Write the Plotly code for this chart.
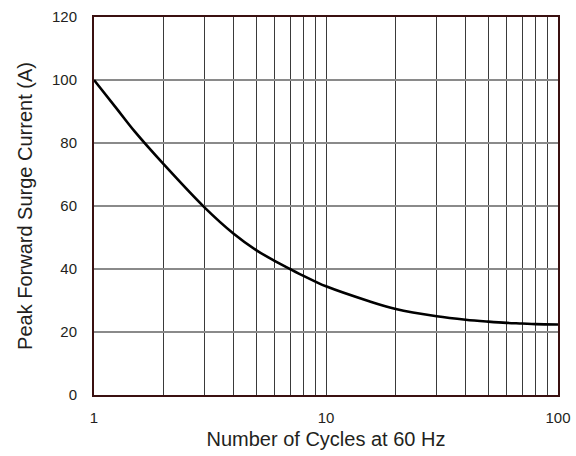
import plotly.graph_objects as go

cycles = [1, 1.25, 1.5, 2, 3, 4, 5, 6, 7, 8, 9, 10, 15, 20, 30, 40, 50, 60, 70, 80, 100]
current = [100, 91, 83.6, 73.2, 59.5, 51.2, 46, 42.6, 40, 37.8, 36.0, 34.5,
           30.0, 27.3, 25.0, 23.9, 23.3, 22.9, 22.7, 22.5, 22.4]

x_grid = [1, 2, 3, 4, 5, 6, 7, 8, 9, 10, 20, 30, 40, 50, 60, 70, 80, 90, 100]
x_labels = ["1" if v == 1 else "10" if v == 10 else "100" if v == 100 else "" for v in x_grid]
y_ticks = [0, 20, 40, 60, 80, 100, 120]

fig = go.Figure()
fig.add_trace(go.Scatter(x=cycles, y=current, mode="lines",
                         line=dict(color="black", width=2.6, shape="spline", smoothing=1.0),
                         showlegend=False, hoverinfo="skip"))

font = dict(family="Liberation Sans, Arial, sans-serif", size=15, color="#231f20")
frame = "#3a1010"

fig.update_layout(
    width=576, height=456,
    margin=dict(l=94, r=18, t=17, b=61),
    paper_bgcolor="white", plot_bgcolor="white",
    font=font,
    xaxis=dict(type="log", range=[0, 2], tickvals=x_grid, ticktext=x_labels,
               showgrid=True, gridcolor="#3a3a3a", gridwidth=1,
               showline=True, mirror=True, linecolor=frame, linewidth=2,
               ticks="", ticklabelstandoff=8, automargin=False,
               title=dict(text="Number of Cycles at 60 Hz", font=dict(size=20), standoff=7),
               zeroline=False),
    yaxis=dict(range=[0, 120], tickvals=y_ticks,
               showgrid=True, gridcolor="#8a8a8a", gridwidth=1.5,
               showline=True, mirror=True, linecolor=frame, linewidth=2,
               ticks="", ticklabelstandoff=12, automargin=False,
               title=dict(text="Peak Forward Surge Current (A)", font=dict(size=20), standoff=14),
               zeroline=False),
)

fig.write_html("out.html", config={"displayModeBar": False},
               post_script="document.body.style.margin='0';document.body.style.overflow='hidden';")
